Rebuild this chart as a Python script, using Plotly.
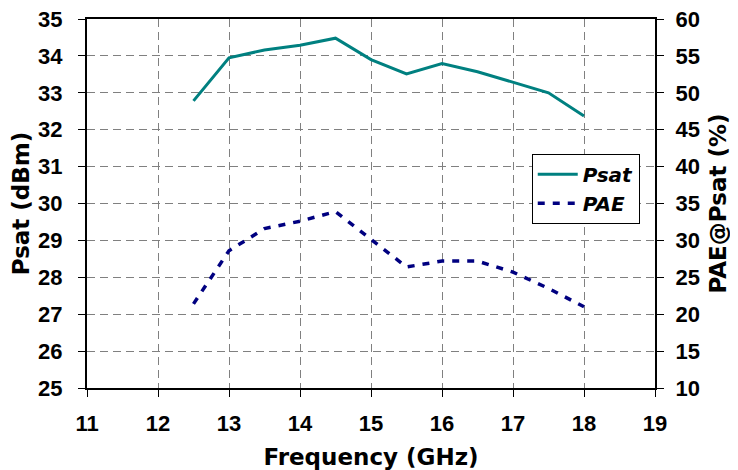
import plotly.graph_objects as go

freq = [12.5, 13, 13.5, 14, 14.5, 15, 15.5, 16, 16.5, 17, 17.5, 18]
psat = [32.78, 33.95, 34.16, 34.29, 34.48, 33.9, 33.51, 33.79, 33.57, 33.28, 33.0, 32.37]
pae = [21.4, 28.6, 31.6, 32.6, 33.9, 30.1, 26.4, 27.2, 27.2, 25.7, 23.5, 21.0]

FONT = "Liberation Sans, Arial, sans-serif"
TFONT = "DejaVu Sans, sans-serif"

fig = go.Figure()
fig.add_trace(go.Scatter(x=freq, y=psat, name="Psat", mode="lines",
                         line=dict(color="#008080", width=3)))
fig.add_trace(go.Scatter(x=freq, y=pae, name="PAE", mode="lines", yaxis="y2",
                         line=dict(color="#000080", width=3.5, dash="7px,8px")))

tickfont = dict(family=FONT, size=22, color="black", weight="bold")
titlefont = dict(family=TFONT, size=23, color="black", weight="bold")

axis_common = dict(showline=True, linecolor="black", linewidth=2, automargin=False,
                   ticks="outside", ticklen=7, tickcolor="black", tickwidth=1,
                   tickfont=tickfont, zeroline=False, ticklabeloverflow="allow")

fig.update_layout(
    width=730, height=462,
    margin=dict(l=79, r=83, t=11, b=82),
    plot_bgcolor="white", paper_bgcolor="white",
    font=dict(family=FONT, color="black"),
    xaxis=dict(range=[11, 19], dtick=1, mirror=True,
               gridcolor="#808080", griddash="8px,5px", gridwidth=1,
               ticklabelstandoff=8,
               title=dict(text="Frequency (GHz)", font=titlefont, standoff=15),
               **axis_common),
    yaxis=dict(range=[25, 35], dtick=1, tickformat="d",
               gridcolor="#808080", griddash="8px,5px", gridwidth=1,
               ticklabelstandoff=11,
               title=dict(text="Psat (dBm)", font=titlefont, standoff=9),
               **axis_common),
    yaxis2=dict(range=[10, 60], dtick=5, tickformat="d", overlaying="y", side="right",
                showgrid=False, ticklabelstandoff=7,
                title=dict(text="PAE@Psat (%)", font=titlefont, standoff=11),
                **axis_common),
    legend=dict(x=0.783, y=0.635, xanchor="left", yanchor="top",
                bgcolor="white", bordercolor="black", borderwidth=1,
                font=dict(family=TFONT, size=20, color="black", weight="bold", style="italic"),
                tracegroupgap=0, itemwidth=40),
    showlegend=True,
)
fig.write_html("out.html")
